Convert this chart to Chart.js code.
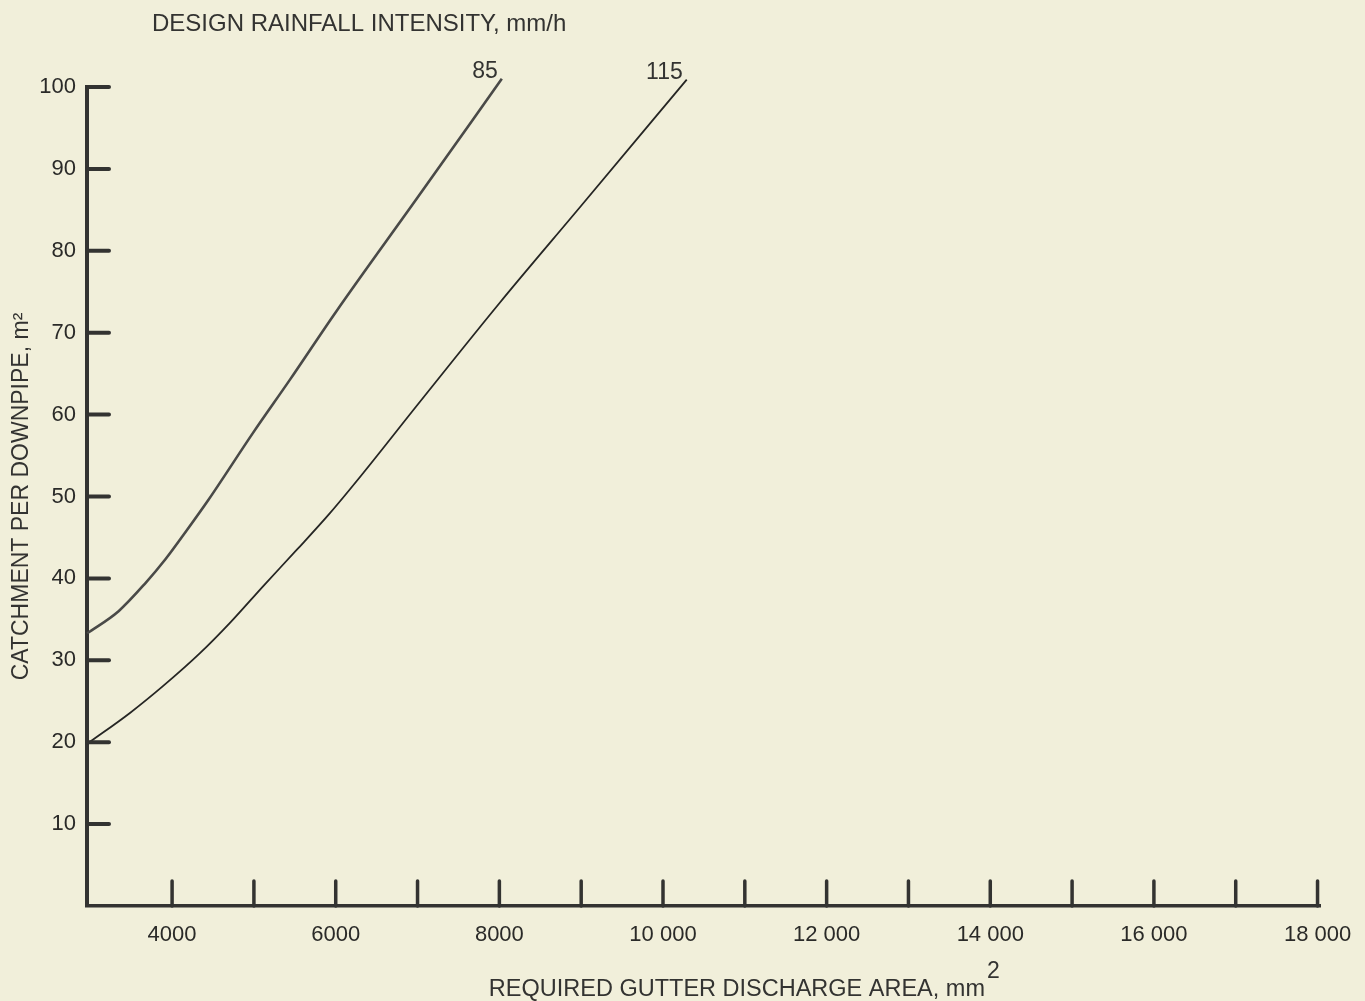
<!DOCTYPE html>
<html>
<head>
<meta charset="utf-8">
<script src="https://cdn.jsdelivr.net/npm/chart.js@4"></script>
<style>
  html, body { margin: 0; padding: 0; background: #f1efda; }
  canvas { display: block; }
</style>
</head>
<body>
<canvas id="chart" width="1365" height="1001"></canvas>
<script>
// Curve data (x = gutter area mm2, y = catchment m2)
const intensityLabels = ['85', '115'];
const area85 = [2963, 3346, 3672, 3916, 4160, 4445, 4991, 5443, 6000, 7000, 8030];
const catch85 = [33.3, 36.0, 39.4, 42.3, 45.6, 49.6, 57.8, 64.3, 72.5, 86.5, 101];
const area115 = [2963, 3489, 3895, 4344, 4710, 5117, 5525, 5932, 6339, 7000, 8000, 9000, 10290];
const catch115 = [19.8, 23.6, 26.9, 30.9, 34.6, 39.1, 43.5, 48.0, 52.9, 61.2, 73.6, 85.5, 100.9];
const xTickValues = [4000, 5000, 6000, 7000, 8000, 9000, 10000, 11000, 12000, 13000, 14000, 15000, 16000, 17000, 18000];
const yTickValues = [10, 20, 30, 40, 50, 60, 70, 80, 90, 100];

const INK = '#333331';
const FONT = '"Liberation Sans", Arial, Helvetica, sans-serif';

function toPoints(xs, ys) {
    return xs.map((x, i) => ({ x: x, y: ys[i] }));
}

function fmtThousands(v) {
    if (v < 10000) return String(v);
    return String(v).replace(/\B(?=(\d{3})+(?!\d))/g, ' ');
}

// paper background, inward tick marks, curve labels and titles
const paperPlugin = {
    id: 'paper',
    beforeDraw(chart) {
        const ctx = chart.ctx;
        ctx.save();
        ctx.fillStyle = '#f1efda';
        ctx.fillRect(0, 0, chart.width, chart.height);
        ctx.restore();
    },
    afterDraw(chart) {
        const ctx = chart.ctx;
        const xs = chart.scales.x, ys = chart.scales.y;
        const axisX = xs.getPixelForValue(xs.min);
        const axisY = ys.getPixelForValue(ys.min);
        ctx.save();
        ctx.strokeStyle = INK;
        ctx.lineCap = 'round';

        // y tick marks pointing right
        ctx.lineWidth = 4;
        ys.ticks.forEach(t => {
            const py = ys.getPixelForValue(t.value);
            ctx.beginPath();
            ctx.moveTo(axisX, py);
            ctx.lineTo(axisX + 22, py);
            ctx.stroke();
        });
        // x tick marks pointing up
        ctx.lineWidth = 3.5;
        xs.ticks.forEach(t => {
            const px = xs.getPixelForValue(t.value);
            ctx.beginPath();
            ctx.moveTo(px, axisY);
            ctx.lineTo(px, axisY - 25);
            ctx.stroke();
        });

        // curve labels at the top end of each line
        ctx.fillStyle = INK;
        ctx.font = '23px ' + FONT;
        ctx.textAlign = 'right';
        ctx.textBaseline = 'alphabetic';
        chart.data.datasets.forEach((ds, i) => {
            const last = ds.data[ds.data.length - 1];
            const px = xs.getPixelForValue(last.x);
            const py = ys.getPixelForValue(last.y);
            ctx.fillText(intensityLabels[i], px - 4, py - 1);
        });

        // top title
        ctx.textAlign = 'left';
        ctx.font = '24px ' + FONT;
        ctx.fillText('DESIGN RAINFALL INTENSITY, mm/h', 152, 31);

        // x axis title with superscript
        ctx.font = '23.5px ' + FONT;
        const main = 'REQUIRED GUTTER DISCHARGE AREA, mm';
        const w = ctx.measureText(main).width;
        const left = 985 - w;
        ctx.fillText(main, left, 996);
        ctx.font = '23px ' + FONT;
        ctx.fillText('2', left + w + 2, 978);
        ctx.restore();
    }
};

new Chart(document.getElementById('chart'), {
    type: 'scatter',
    data: {
        datasets: [
            {
                label: intensityLabels[0],
                data: toPoints(area85, catch85),
                showLine: true,
                borderColor: '#4a4a48',
                borderWidth: 2.6,
                pointRadius: 0,
                cubicInterpolationMode: 'monotone',
                clip: false
            },
            {
                label: intensityLabels[1],
                data: toPoints(area115, catch115),
                showLine: true,
                borderColor: '#262624',
                borderWidth: 1.8,
                pointRadius: 0,
                cubicInterpolationMode: 'monotone',
                clip: false
            }
        ]
    },
    options: {
        responsive: false,
        animation: false,
        layout: { padding: { top: 87, right: 45, left: 0, bottom: 0 } },
        plugins: {
            legend: { display: false },
            tooltip: { enabled: false },
            title: { display: false }
        },
        scales: {
            x: {
                type: 'linear',
                min: 2960,
                max: 18030,
                grid: { display: false },
                border: { display: true, color: INK, width: 3.5 },
                ticks: {
                    autoSkip: false,
                    maxRotation: 0,
                    padding: 8,
                    color: '#2a2a28',
                    font: { family: FONT, size: 22 },
                    callback: v => (v % 2000 === 0 ? fmtThousands(v) : '')
                },
                afterBuildTicks: s => { s.ticks = xTickValues.map(v => ({ value: v })); },
                afterFit: s => { s.height = 95; }
            },
            y: {
                type: 'linear',
                min: 0,
                max: 100,
                grid: { display: false },
                border: { display: true, color: INK, width: 4 },
                title: {
                    display: true,
                    text: 'CATCHMENT PER DOWNPIPE, m²',
                    color: INK,
                    font: { family: FONT, size: 23 },
                    padding: { top: 8, bottom: 0 }
                },
                ticks: {
                    padding: 3,
                    color: '#2a2a28',
                    font: { family: FONT, size: 22 }
                },
                afterBuildTicks: s => { s.ticks = yTickValues.map(v => ({ value: v })); },
                afterFit: s => { s.width = 87; }
            }
        }
    },
    plugins: [paperPlugin]
});
</script>
</body>
</html>
